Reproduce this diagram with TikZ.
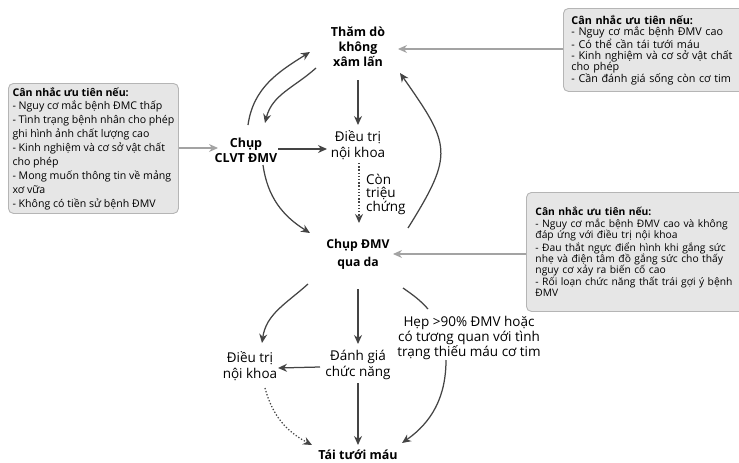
\documentclass[tikz,border=0pt]{standalone}
\usepackage{fontspec}
\setmainfont{Open Sans}
\usetikzlibrary{arrows.meta,positioning,calc}
\definecolor{flowdark}{HTML}{444444}
\definecolor{flowgrey}{HTML}{A3A3A3}
\definecolor{notefill}{HTML}{E6E6E6}
\definecolor{noteline}{HTML}{B5B5B5}
\tikzset{
  stagebox/.style={
    align=center,
    font=\bfseries\fontsize{12.5}{15}\selectfont,
    inner sep=1pt
  },
  plainbox/.style={
    align=center,
    font=\fontsize{13.5}{15.5}\selectfont,
    inner sep=1pt
  },
  notebox/.style={
    rounded corners=5pt,
    draw=noteline,
    fill=notefill,
    line width=0.9pt,
    align=left,
    anchor=north west,
    inner xsep=8pt,
    font=\fontsize{10.6}{11.2}\selectfont
  },
  arrow/.style={
    -{Stealth[length=9pt,width=8pt]},
    line width=1.25pt,
    draw=flowdark
  },
  inarrow/.style={
    -{Stealth[length=9pt,width=8pt]},
    line width=1.1pt,
    draw=flowgrey
  },
  dotline/.style={
    dash pattern=on 1.3pt off 1.9pt
  }
}

\begin{document}
\begin{tikzpicture}[x=1pt,y=-1pt]
\useasboundingbox (0,0) rectangle (739,463);
% stages
\node[stagebox] (noninv) at (358,47) {Thăm dò\\không\\xâm lấn};
\node[stagebox] (ctca) at (246,150) {Chụp\\CLVT ĐMV};
\node[plainbox] (medtop) at (358,145) {Điều trị\\nội khoa};
\node[plainbox, anchor=west, align=left, font=\fontsize{13.5}{13.5}\selectfont] (sympt) at (365,194) {Còn\\triệu\\chứng};
\node[stagebox, font=\bfseries\fontsize{12.2}{18}\selectfont] (ica) at (358,254) {Chụp ĐMV\\qua da};
\node[plainbox] (medlow) at (250,366) {Điều trị\\nội khoa};
\node[plainbox] (ffr) at (358,365) {Đánh giá\\chức năng};
\node[plainbox, font=\fontsize{13.5}{14.7}\selectfont] (stenosis) at (469,338) {Hẹp >90\% ĐMV hoặc\\có tương quan với tình\\trạng thiếu máu cơ tim};
\node[stagebox] (revasc) at (358,455) {Tái tưới máu};
% notes
\node[notebox, text width=200pt, minimum height=83pt, font=\fontsize{10.8}{11}\selectfont] (notetop) at (563,8) {\textbf{Cân nhắc ưu tiên nếu:}\\- Nguy cơ mắc bệnh ĐMV cao\\- Có thể cần tái tưới máu\\- Kinh nghiệm và cơ sở vật chất\\cho phép\\- Cần đánh giá sống còn cơ tim};
\node[notebox, text width=210pt, minimum height=119pt, inner xsep=9pt, font=\fontsize{10.3}{11.4}\selectfont] (notemid) at (526,192) {\textbf{Cân nhắc ưu tiên nếu:}\\- Nguy cơ mắc bệnh ĐMV cao và không\\đáp ứng với điều trị nội khoa\\- Đau thắt ngực điển hình khi gắng sức\\nhẹ và điện tâm đồ gắng sức cho thấy\\nguy cơ xảy ra biến cố cao\\- Rối loạn chức năng thất trái gợi ý bệnh\\ĐMV};
\node[notebox, minimum width=170pt, minimum height=130pt, inner xsep=2pt, font=\fontsize{10.6}{13.9}\selectfont] (noteleft) at (8,83) {\textbf{Cân nhắc ưu tiên nếu:}\\- Nguy cơ mắc bệnh ĐMC thấp\\- Tình trạng bệnh nhân cho phép\\ghi hình ảnh chất lượng cao\\- Kinh nghiệm và cơ sở vật chất\\cho phép\\- Mong muốn thông tin về mảng\\xơ vữa\\- Không có tiền sử bệnh ĐMV};
% inputs
\draw[inarrow] (notetop.west |- {$(noninv)+(0,2)$}) -- ($(noninv)+(40,2)$);
\draw[inarrow] (noteleft.east |- {$(ctca)+(0,-2)$}) -- ($(ctca)+(-28,-2)$);
\draw[inarrow] (notemid.west |- ica) -- ($(ica)+(35,0)$);
% flow
\draw[arrow] ($(ctca)+(2,-25)$) to[out=82,in=212] ($(noninv)+(-48,5)$);
\draw[arrow] ($(noninv)+(-42,21)$) to[out=222,in=76] ($(ctca)+(19,-27)$);
\draw[arrow] ($(noninv)+(0,33)$) -- ($(medtop)+(0,-20)$);
\draw[arrow] ($(ctca)+(32,-1)$) -- ($(medtop)+(-31,4)$);
\draw[arrow] ($(ctca)+(17,15)$) to[out=-82,in=148] ($(ica)+(-48,-21)$);
\draw[arrow, dotline] ($(medtop)+(1,18)$) -- ($(ica)+(1,-31)$);
\draw[arrow] ($(ica)+(50,-26)$) to[out=58,in=-55,looseness=1.45] ($(noninv)+(42,26)$);
\draw[arrow] ($(ica)+(-50,30)$) to[out=222,in=82] ($(medlow)+(12,-23)$);
\draw[arrow] ($(ica)+(0,35)$) -- ($(ffr)+(0,-21)$);
\draw[arrow] ($(ffr)+(-38,2)$) -- ($(medlow)+(28,2)$);
\draw[arrow] ($(ffr)+(0,18)$) -- ($(revasc)+(0,-10)$);
\draw[arrow, dotline] ($(medlow)+(15,22)$) to[out=-75,in=152] ($(revasc)+(-46,-10)$);
\draw[line width=1.25pt, draw=flowdark] ($(ica)+(45,34)$) to[out=-35,in=132] ($(stenosis)+(-41,-29)$);
\draw[arrow] ($(stenosis)+(-23,22)$) to[out=-90,in=35] ($(revasc)+(44,-12)$);
\end{tikzpicture}
\end{document}
